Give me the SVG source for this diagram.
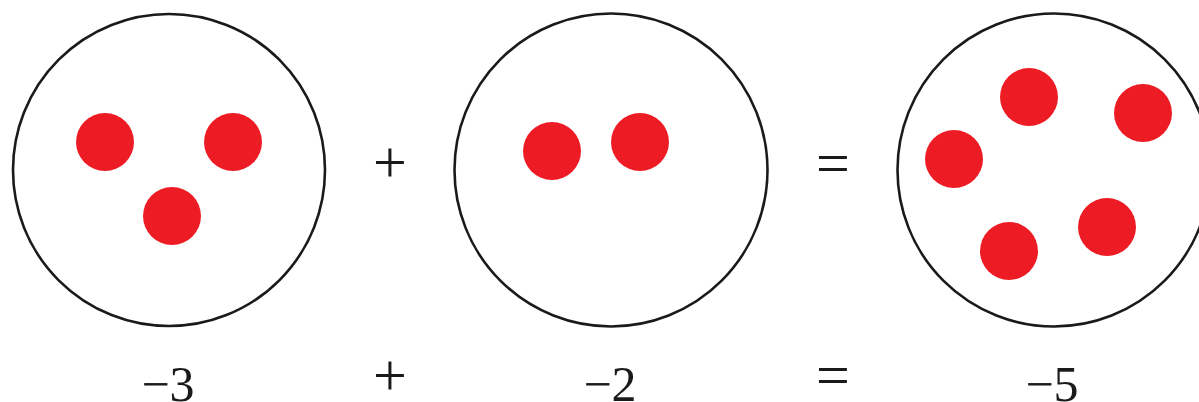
<svg xmlns="http://www.w3.org/2000/svg" width="1199" height="402" viewBox="0 0 1199 402">
  <style>
    .ring { fill: #ffffff; stroke: #1a1a1a; stroke-width: 2.6; }
    .dot { fill: #ED1C24; }
    .op { font-family: "Liberation Serif", "Times New Roman", serif; font-size: 60px; fill: #1a1a1a; text-anchor: middle; }
    .num { font-family: "Liberation Serif", "Times New Roman", serif; font-size: 50px; fill: #1a1a1a; text-anchor: middle; }
  </style>
  <rect width="1199" height="402" fill="#ffffff"/>
  <g id="set-a">
    <circle class="ring" cx="169" cy="170" r="156"/>
    <circle class="dot" cx="105" cy="142" r="29"/>
    <circle class="dot" cx="233" cy="142" r="29"/>
    <circle class="dot" cx="172" cy="216" r="29"/>
  </g>
  <g id="set-b">
    <circle class="ring" cx="611" cy="170" r="156.5"/>
    <circle class="dot" cx="552" cy="151" r="29"/>
    <circle class="dot" cx="640" cy="142" r="29"/>
  </g>
  <g id="set-c">
    <circle class="ring" cx="1054" cy="170" r="156.5"/>
    <circle class="dot" cx="1029" cy="97" r="29"/>
    <circle class="dot" cx="1143" cy="113" r="29"/>
    <circle class="dot" cx="954" cy="159" r="29"/>
    <circle class="dot" cx="1107" cy="227" r="29"/>
    <circle class="dot" cx="1009" cy="251" r="29"/>
  </g>
  <g id="operators">
    <text class="op" x="390" y="182">+</text>
    <text class="op" x="833" y="183">=</text>
    <text class="op" x="390" y="395">+</text>
    <text class="op" x="833" y="395">=</text>
  </g>
  <g id="labels">
    <text class="num" x="168" y="401">−3</text>
    <text class="num" x="610" y="401">−2</text>
    <text class="num" x="1052" y="401">−5</text>
  </g>
</svg>
